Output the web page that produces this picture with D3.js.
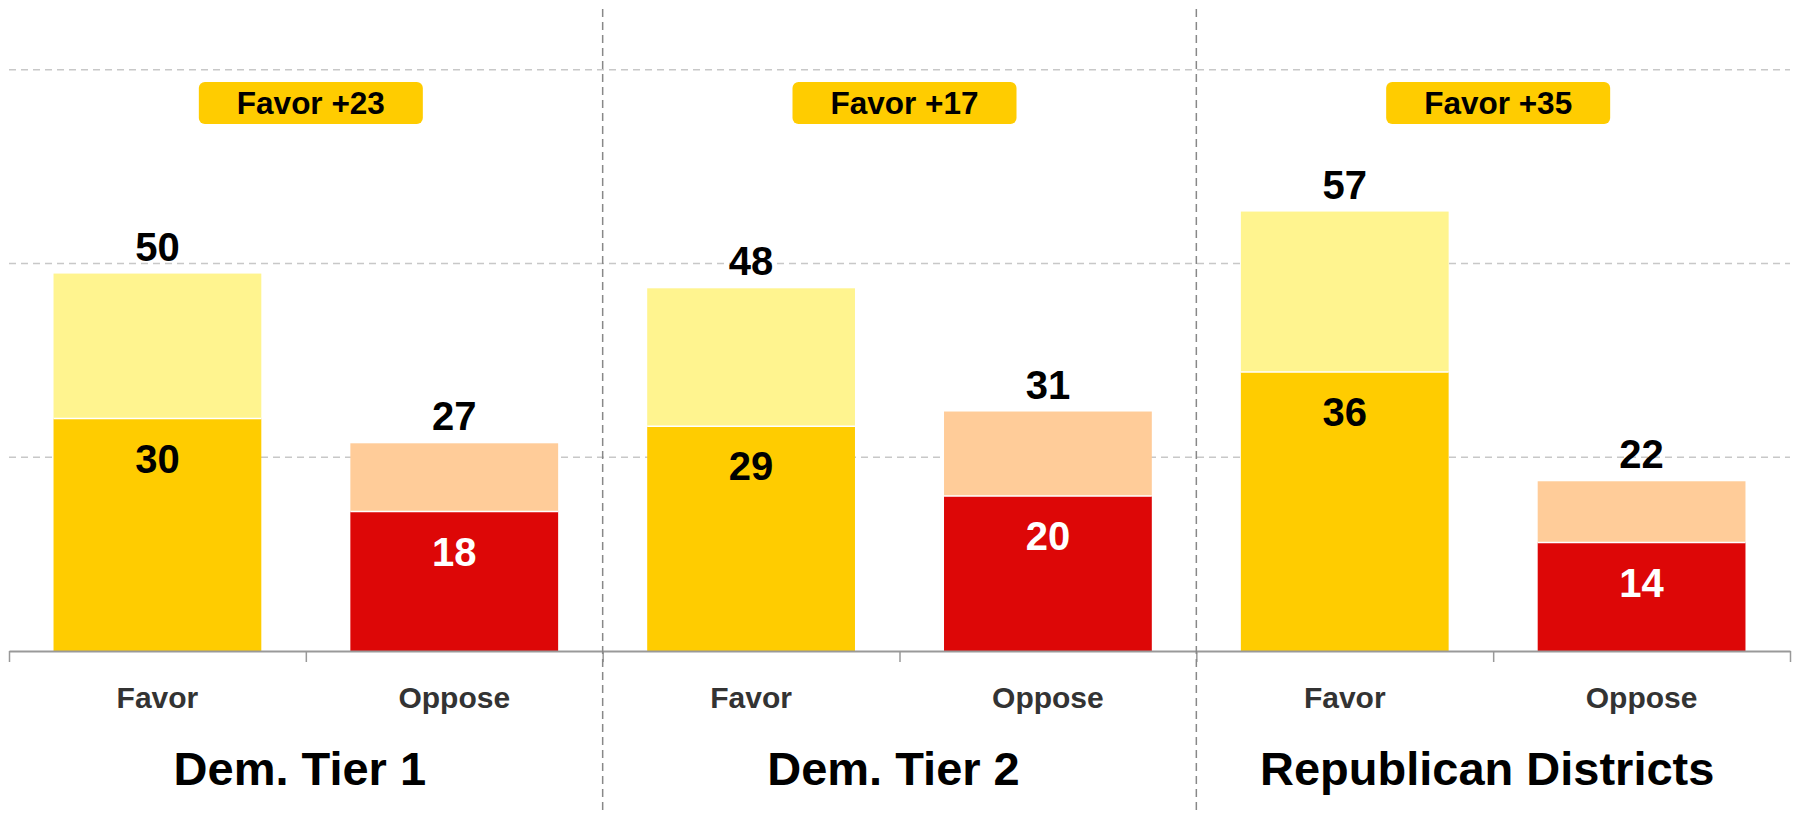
<!DOCTYPE html>
<html>
<head>
<meta charset="utf-8">
<script src="https://cdn.jsdelivr.net/npm/d3@7"></script>
<style>
  html, body { margin: 0; padding: 0; background: #fff; }
  svg { display: block; font-family: "Liberation Sans", Arial, Helvetica, sans-serif; }
</style>
</head>
<body>
<div class="chart"></div>
<script>
// groups and the two answers inside each
var groups = ['Dem. Tier 1', 'Dem. Tier 2', 'Republican Districts']
  , answers = ['Favor', 'Oppose']
  , badgeLabels = ['Favor +23', 'Favor +17', 'Favor +35'];

// strong share and full share (bar heights)
var favorStrong = [30, 29, 36]
  , favorTotal = [48.7, 46.8, 56.7]
  , opposeStrong = [18, 20, 14]
  , opposeTotal = [26.8, 30.9, 21.9];

// printed labels
var favorTotalLabels = ['50', '48', '57']
  , opposeTotalLabels = ['27', '31', '22']
  , favorStrongLabels = ['30', '29', '36']
  , opposeStrongLabels = ['18', '20', '14'];

var gridValues = [25, 50, 75];

var w = 1794
  , h = 815
  , left = 9
  , right = 1790
  , baseY = 651;

var svg = d3.select('.chart')
            .append('svg')
            .attr('width', w)
            .attr('height', h);

// one slot per bar: group x answer
var slots = [];
groups.forEach(function (g) {
  answers.forEach(function (a) {
    slots.push(g + '|' + a);
  });
});

var x = d3.scaleBand()
          .domain(slots)
          .range([left, right])
          .paddingInner(0.3)
          .paddingOuter(0.15);

var xEdge = d3.scaleLinear()
              .domain([0, slots.length])
              .range([left, right]);

var y = d3.scaleLinear()
          .domain([0, 84])
          .range([baseY, 0]);

// horizontal grid
svg.append('g')
   .selectAll('line')
   .data(gridValues)
   .enter()
   .append('line')
   .attr('x1', left)
   .attr('x2', right)
   .attr('y1', function (d) { return y(d); })
   .attr('y2', function (d) { return y(d); })
   .attr('stroke', '#c8c8c8')
   .attr('stroke-width', 1.5)
   .attr('stroke-dasharray', '7,5');

// bar rows
var bars = [];
groups.forEach(function (g, gi) {
  bars.push({ key: g + '|Favor', strong: favorStrong[gi], total: favorTotal[gi],
              strongLabel: favorStrongLabels[gi], totalLabel: favorTotalLabels[gi],
              dark: '#ffcc00', light: '#fff48f', inner: '#000' });
  bars.push({ key: g + '|Oppose', strong: opposeStrong[gi], total: opposeTotal[gi],
              strongLabel: opposeStrongLabels[gi], totalLabel: opposeTotalLabels[gi],
              dark: '#dd0707', light: '#ffcc99', inner: '#fff' });
});

var barG = svg.append('g');

barG.selectAll('rect.light')
    .data(bars)
    .enter()
    .append('rect')
    .attr('class', 'light')
    .attr('x', function (d) { return x(d.key); })
    .attr('y', function (d) { return y(d.total); })
    .attr('width', x.bandwidth())
    .attr('height', function (d) { return y(d.strong) - y(d.total); })
    .attr('fill', function (d) { return d.light; });

barG.selectAll('rect.dark')
    .data(bars)
    .enter()
    .append('rect')
    .attr('class', 'dark')
    .attr('x', function (d) { return x(d.key); })
    .attr('y', function (d) { return y(d.strong); })
    .attr('width', x.bandwidth())
    .attr('height', function (d) { return baseY - y(d.strong); })
    .attr('fill', function (d) { return d.dark; });

// thin white seam between the two parts
barG.selectAll('line.seam')
    .data(bars)
    .enter()
    .append('line')
    .attr('class', 'seam')
    .attr('x1', function (d) { return x(d.key); })
    .attr('x2', function (d) { return x(d.key) + x.bandwidth(); })
    .attr('y1', function (d) { return y(d.strong); })
    .attr('y2', function (d) { return y(d.strong); })
    .attr('stroke', '#fff')
    .attr('stroke-width', 1.5);

barG.selectAll('text.total')
    .data(bars)
    .enter()
    .append('text')
    .attr('class', 'total')
    .attr('x', function (d) { return x(d.key) + x.bandwidth() / 2; })
    .attr('y', function (d) { return y(d.total) - 13; })
    .attr('text-anchor', 'middle')
    .attr('font-size', 40)
    .attr('font-weight', 'bold')
    .attr('fill', '#000')
    .text(function (d) { return d.totalLabel; });

barG.selectAll('text.inner')
    .data(bars)
    .enter()
    .append('text')
    .attr('class', 'inner')
    .attr('x', function (d) { return x(d.key) + x.bandwidth() / 2; })
    .attr('y', function (d) { return y(d.strong) + 54; })
    .attr('text-anchor', 'middle')
    .attr('font-size', 40)
    .attr('font-weight', 'bold')
    .attr('fill', function (d) { return d.inner; })
    .text(function (d) { return d.strongLabel; });

// x axis, ticks on the slot edges
var axisG = svg.append('g')
               .attr('transform', 'translate(0,' + baseY + ')')
               .call(d3.axisBottom(xEdge)
                       .tickValues(d3.range(slots.length + 1))
                       .tickFormat('')
                       .tickSize(11)
                       .tickSizeOuter(0));
axisG.select('.domain').attr('stroke', '#999').attr('stroke-width', 2);
axisG.selectAll('.tick line').attr('stroke', '#999').attr('stroke-width', 1.5);

svg.append('g')
   .selectAll('text')
   .data(slots)
   .enter()
   .append('text')
   .attr('x', function (d) { return x(d) + x.bandwidth() / 2; })
   .attr('y', 708)
   .attr('text-anchor', 'middle')
   .attr('font-size', 30)
   .attr('font-weight', 'bold')
   .attr('fill', '#333')
   .text(function (d) { return d.split('|')[1]; });

// group separators
svg.append('g')
   .selectAll('line')
   .data([1, 2])
   .enter()
   .append('line')
   .attr('x1', function (d) { return xEdge(d * 2); })
   .attr('x2', function (d) { return xEdge(d * 2); })
   .attr('y1', 9)
   .attr('y2', h)
   .attr('stroke', '#888')
   .attr('stroke-width', 1.5)
   .attr('stroke-dasharray', '8,5');

var groupCenter = function (gi) {
  return (xEdge(gi * 2) + xEdge(gi * 2 + 2)) / 2;
};

// group titles
svg.append('g')
   .selectAll('text')
   .data(groups)
   .enter()
   .append('text')
   .attr('x', function (d, i) { return groupCenter(i) - 6; })
   .attr('y', 785)
   .attr('text-anchor', 'middle')
   .attr('font-size', 47)
   .attr('font-weight', 'bold')
   .attr('fill', '#000')
   .text(function (d) { return d; });

// margin badges
var badge = svg.append('g')
               .selectAll('g')
               .data(badgeLabels)
               .enter()
               .append('g')
               .attr('transform', function (d, i) {
                 return 'translate(' + (groupCenter(i) + 5) + ',' + 82 + ')';
               });

badge.append('rect')
     .attr('x', -112)
     .attr('y', 0)
     .attr('width', 224)
     .attr('height', 42)
     .attr('rx', 6)
     .attr('fill', '#ffcc00');

badge.append('text')
     .attr('x', 0)
     .attr('y', 32)
     .attr('text-anchor', 'middle')
     .attr('font-size', 31.5)
     .attr('font-weight', 'bold')
     .attr('fill', '#000')
     .text(function (d) { return d; });
</script>
</body>
</html>
